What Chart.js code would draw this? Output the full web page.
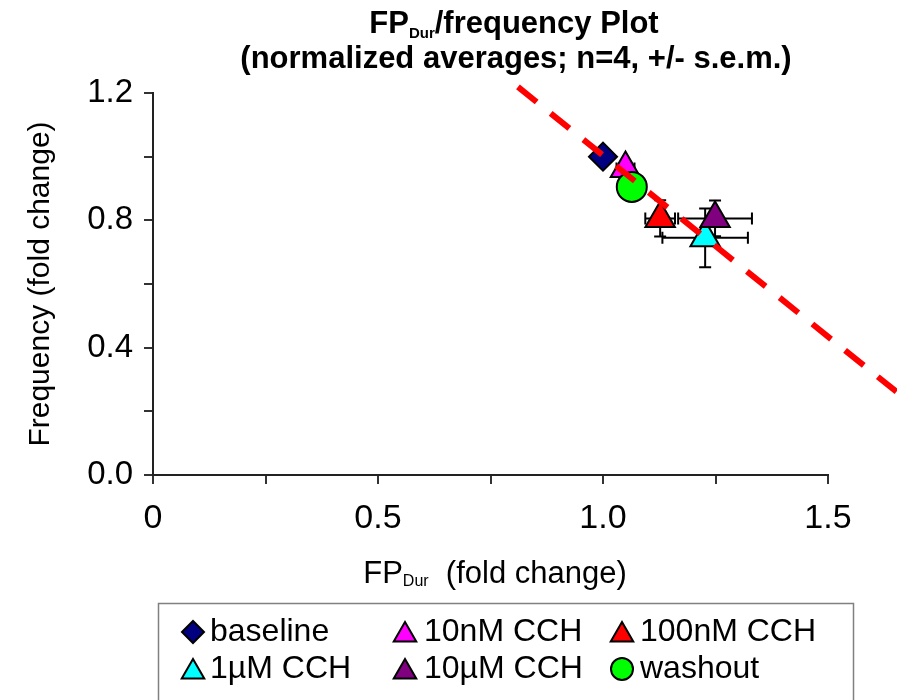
<!DOCTYPE html>
<html><head><meta charset="utf-8">
<script src="https://cdn.jsdelivr.net/npm/chart.js@4"></script>
<style>html,body{margin:0;padding:0;background:#fff}#wrap{width:897px;height:700px}</style>
</head><body><div id="wrap"><canvas id="c" width="897" height="700"></canvas></div>
<script>
// ---- data ----
const seriesNames = ['baseline', '10nM CCH', '100nM CCH', '1µM CCH', '10µM CCH', 'washout'];
const fpDur = [1.0, 1.05, 1.127, 1.227, 1.249, 1.064];
const frequency = [1.0, 0.963, 0.806, 0.745, 0.806, 0.905];
const fpDurSem = [0.0, 0.02, 0.033, 0.095, 0.082, 0.01];
const frequencySem = [0.0, 0.02, 0.057, 0.092, 0.056, 0.04];
const trendX = [0.811, 1.70];
const trendY = [1.219, 0.207];
const xTickValues = [0, 0.5, 1.0, 1.5];
const xTickLabels = ['0', '0.5', '1.0', '1.5'];
const yTickValues = [0, 0.4, 0.8, 1.2];
const yTickLabels = ['0.0', '0.4', '0.8', '1.2'];

// ---- styles ----
const markerStyles = ['rectRot', 'triangle', 'triangle', 'triangle', 'triangle', 'circle'];
const markerColors = ['#000080', '#FF00FF', '#FF0000', '#00FFFF', '#800080', '#00FF00'];
const markerRadius = [14, 17, 17, 17, 17, 15];
const FONT = "'Liberation Sans', Arial, Helvetica, sans-serif";

function lookup(values, labels, v) {
  for (let i = 0; i < values.length; i++) if (Math.abs(values[i] - v) < 1e-6) return labels[i];
  return '';
}

const datasets = [{
  type: 'line', label: 'trend',
  data: trendX.map((x, i) => ({x, y: trendY[i]})),
  borderColor: '#FF0000', borderWidth: 6, borderDash: [24, 18],
  pointRadius: 0, showLine: true, clip: false, fill: false, order: 0
}];
seriesNames.forEach((name, i) => {
  datasets.push({
    type: 'scatter', label: name,
    data: [{x: fpDur[i], y: frequency[i]}],
    pointStyle: markerStyles[i], pointRadius: markerRadius[i],
    backgroundColor: markerColors[i], borderColor: '#000', borderWidth: 2,
    clip: false, order: seriesNames.length - i
  });
});

const errorBars = {
  id: 'errorBars',
  beforeDatasetsDraw(chart) {
    const {ctx, scales: {x, y}} = chart;
    ctx.save();
    ctx.strokeStyle = '#000'; ctx.lineWidth = 2;
    const cap = 6;
    for (let i = 0; i < fpDur.length; i++) {
      const cx = x.getPixelForValue(fpDur[i]), cy = y.getPixelForValue(frequency[i]);
      if (fpDurSem[i] > 0) {
        const x0 = x.getPixelForValue(fpDur[i] - fpDurSem[i]);
        const x1 = x.getPixelForValue(fpDur[i] + fpDurSem[i]);
        ctx.beginPath();
        ctx.moveTo(x0, cy); ctx.lineTo(x1, cy);
        ctx.moveTo(x0, cy - cap); ctx.lineTo(x0, cy + cap);
        ctx.moveTo(x1, cy - cap); ctx.lineTo(x1, cy + cap);
        ctx.stroke();
      }
      if (frequencySem[i] > 0) {
        const y0 = y.getPixelForValue(frequency[i] - frequencySem[i]);
        const y1 = y.getPixelForValue(frequency[i] + frequencySem[i]);
        ctx.beginPath();
        ctx.moveTo(cx, y0); ctx.lineTo(cx, y1);
        ctx.moveTo(cx - cap, y0); ctx.lineTo(cx + cap, y0);
        ctx.moveTo(cx - cap, y1); ctx.lineTo(cx + cap, y1);
        ctx.stroke();
      }
    }
    ctx.restore();
  }
};

function drawSegments(ctx, segs, cx, baseline) {
  let total = 0;
  segs.forEach(s => { ctx.font = s.font; s.w = ctx.measureText(s.text).width; total += s.w; });
  let xx = cx - total / 2;
  ctx.textAlign = 'left'; ctx.textBaseline = 'alphabetic'; ctx.fillStyle = '#000';
  segs.forEach(s => { ctx.font = s.font; ctx.fillText(s.text, xx, baseline + (s.dy || 0)); xx += s.w; });
}

const decorations = {
  id: 'decorations',
  afterDraw(chart) {
    const ctx = chart.ctx;
    ctx.save();
    // title
    drawSegments(ctx, [
      {text: 'FP', font: 'bold 31px ' + FONT},
      {text: 'Dur', font: 'bold 15px ' + FONT, dy: 5},
      {text: '/frequency Plot', font: 'bold 31px ' + FONT}
    ], 514, 33);
    drawSegments(ctx, [
      {text: '(normalized averages; n=4, +/- s.e.m.)', font: 'bold 31px ' + FONT}
    ], 516, 68);
    // x axis title
    drawSegments(ctx, [
      {text: 'FP', font: '31px ' + FONT},
      {text: 'Dur', font: '16px ' + FONT, dy: 3},
      {text: '  (fold change)', font: '31px ' + FONT}
    ], 495, 583);
    // legend
    ctx.strokeStyle = '#808080'; ctx.lineWidth = 1.5;
    ctx.strokeRect(158.5, 603.5, 695, 130);
    const colMarker = [193, 405, 622], colText = [210, 424, 640], rows = [632, 669];
    const ds = chart.data.datasets.slice(1);
    ds.forEach((d, i) => {
      const r = Math.floor(i / 3), c = i % 3;
      ctx.fillStyle = d.backgroundColor; ctx.strokeStyle = '#000'; ctx.lineWidth = 2;
      const rad = d.pointStyle === 'triangle' ? 13 : 11;
      const my = rows[r] + (d.pointStyle === 'triangle' ? 3 : 0);
      Chart.helpers.drawPoint(ctx, {pointStyle: d.pointStyle, radius: rad, rotation: 0, borderWidth: 2}, colMarker[c], my);
      ctx.fillStyle = '#000'; ctx.font = '32px ' + FONT;
      ctx.textAlign = 'left'; ctx.textBaseline = 'middle';
      ctx.fillText(d.label, colText[c], rows[r]);
    });
    ctx.restore();
  }
};

new Chart(document.getElementById('c'), {
  type: 'scatter',
  data: {datasets},
  options: {
    responsive: false, animation: false,
    layout: {padding: {top: 93, right: 69, left: 0, bottom: 0}},
    plugins: {legend: {display: false}, tooltip: {enabled: false}, title: {display: false}},
    scales: {
      x: {
        type: 'linear', min: 0, max: 1.5,
        ticks: {stepSize: 0.25, autoSkip: false, maxRotation: 0, color: '#000', padding: 14,
          font: {family: FONT, size: 34}, callback: v => lookup(xTickValues, xTickLabels, v)},
        grid: {drawOnChartArea: false, drawTicks: true, tickLength: 9, color: '#333', lineWidth: 2},
        border: {display: true, color: '#222', width: 2},
        afterFit(s) { s.height = 700 - 475; }
      },
      y: {
        min: 0, max: 1.2,
        ticks: {stepSize: 0.2, autoSkip: false, color: '#000', padding: 11,
          font: {family: FONT, size: 33}, callback: v => lookup(yTickValues, yTickLabels, v)},
        grid: {drawOnChartArea: false, drawTicks: true, tickLength: 9, color: '#333', lineWidth: 2},
        border: {display: true, color: '#222', width: 2},
        title: {display: true, text: 'Frequency (fold change)', color: '#000',
          font: {family: FONT, size: 30}, padding: {top: 23, bottom: 0}},
        afterFit(s) { s.width = 153; }
      }
    }
  },
  plugins: [errorBars, decorations]
});
</script>
</body></html>
